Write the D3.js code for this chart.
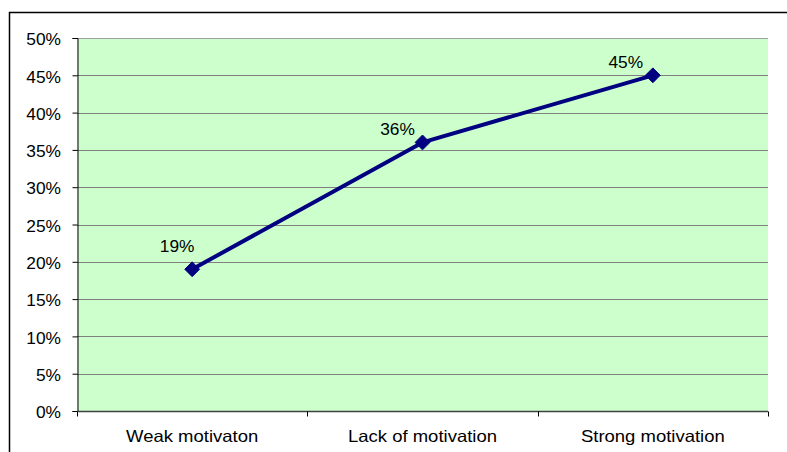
<!DOCTYPE html>
<html>
<head>
<meta charset="utf-8">
<script src="https://cdn.jsdelivr.net/npm/d3@7/dist/d3.min.js"></script>
<style>
  html, body { margin: 0; padding: 0; background: #fff; }
  svg { display: block; }
  text { font-family: "Liberation Sans", Arial, sans-serif; fill: #000; }
</style>
</head>
<body>
<svg id="chart" width="787" height="452"></svg>
<script>
// Motivation levels and their shares
const categories = ["Weak motivaton", "Lack of motivation", "Strong motivation"];
const values = [0.19, 0.36, 0.45];
const yTicks = [0, 0.05, 0.10, 0.15, 0.20, 0.25, 0.30, 0.35, 0.40, 0.45, 0.50];

const svg = d3.select("#chart");
const W = 787, H = 452;
const plot = { left: 77, right: 768, top: 38, bottom: 411 };
const FONT = 16.5;
const NUM_STRETCH = 1.05;   // horizontal widening of numeric labels
const CAT_STRETCH = 1.12;   // horizontal widening of category labels
// value-label baseline offsets from each marker
const labelOffsets = [[-15, -17], [-25, -7], [-27, -7.5]];

// Outer chart frame
svg.append("rect")
  .attr("x", 9.5).attr("y", 12.5)
  .attr("width", W + 10).attr("height", H + 10)
  .attr("fill", "#fff").attr("stroke", "#000").attr("stroke-width", 1.5);

const x = d3.scaleBand().domain(categories).range([plot.left, plot.right]).padding(0);
const y = d3.scaleLinear().domain([0, 0.5]).range([plot.bottom, plot.top]);

// Plot area background
svg.append("rect")
  .attr("x", plot.left).attr("y", plot.top)
  .attr("width", plot.right - plot.left).attr("height", plot.bottom - plot.top)
  .attr("fill", "#CCFFCC");

// Horizontal gridlines
svg.append("g").selectAll("line")
  .data(yTicks.filter(d => d > 0))
  .join("line")
  .attr("x1", plot.left).attr("x2", plot.right)
  .attr("y1", d => Math.round(y(d)) + 0.5).attr("y2", d => Math.round(y(d)) + 0.5)
  .attr("stroke", d => d === 0.5 ? "#a0a0a0" : "#808080")
  .attr("stroke-width", 1);

// Y axis
const yAxis = d3.axisLeft(y)
  .tickValues(yTicks)
  .tickFormat(d3.format(".0%"))
  .tickSize(5)
  .tickPadding(11.5);
const gy = svg.append("g").attr("transform", `translate(${plot.left + 0.5},0)`).call(yAxis);
gy.select(".domain").attr("stroke", "#000");
gy.selectAll(".tick line").attr("stroke", "#000");
gy.selectAll("text")
  .attr("class", "num")
  .attr("dy", "0.41em")
  .attr("font-size", FONT)
  .attr("font-family", "Liberation Sans, Arial, sans-serif")
  .attr("fill", "#000");

// X axis with ticks at category boundaries
const gx = svg.append("g").attr("transform", `translate(0,${plot.bottom + 0.5})`);
gx.append("line")
  .attr("x1", plot.left).attr("x2", plot.right)
  .attr("stroke", "#404040").attr("stroke-width", 1.5);
const bounds = categories.map(c => x(c)).concat([x(categories[categories.length - 1]) + x.bandwidth()]);
gx.selectAll("line.tk").data(bounds).join("line")
  .attr("class", "tk")
  .attr("x1", d => Math.round(d) + 0.5).attr("x2", d => Math.round(d) + 0.5)
  .attr("y1", 0).attr("y2", 5)
  .attr("stroke", "#000");
gx.selectAll("text").data(categories).join("text")
  .attr("class", "cat")
  .attr("x", d => x(d) + x.bandwidth() / 2)
  .attr("y", 30.5)
  .attr("text-anchor", "middle")
  .attr("font-size", FONT)
  .text(d => d);

// Series line
const pts = categories.map((c, i) => [x(c) + x.bandwidth() / 2, y(values[i])]);
svg.append("path")
  .datum(pts)
  .attr("d", d3.line())
  .attr("fill", "none")
  .attr("stroke", "#000080")
  .attr("stroke-width", 4)
  .attr("stroke-linejoin", "round");

// Diamond markers
svg.append("g").selectAll("path")
  .data(pts)
  .join("path")
  .attr("transform", d => `translate(${d[0]},${d[1]})`)
  .attr("d", d3.symbol().type(d3.symbolDiamond2).size(140))
  .attr("fill", "#000080")
  .attr("stroke", "#000080")
  .attr("stroke-width", 1);

// Value labels
svg.append("g").selectAll("text")
  .data(pts)
  .join("text")
  .attr("class", "num")
  .attr("x", (d, i) => d[0] + labelOffsets[i][0])
  .attr("y", (d, i) => d[1] + labelOffsets[i][1])
  .attr("text-anchor", "middle")
  .attr("font-size", FONT)
  .text((d, i) => d3.format(".0%")(values[i]));

// Widen label glyphs
function widen(sel, k) {
  sel.each(function () {
    const w = this.getComputedTextLength();
    d3.select(this).attr("textLength", w * k).attr("lengthAdjust", "spacingAndGlyphs");
  });
}
widen(svg.selectAll("text.num"), NUM_STRETCH);
widen(svg.selectAll("text.cat"), CAT_STRETCH);
</script>
</body>
</html>
